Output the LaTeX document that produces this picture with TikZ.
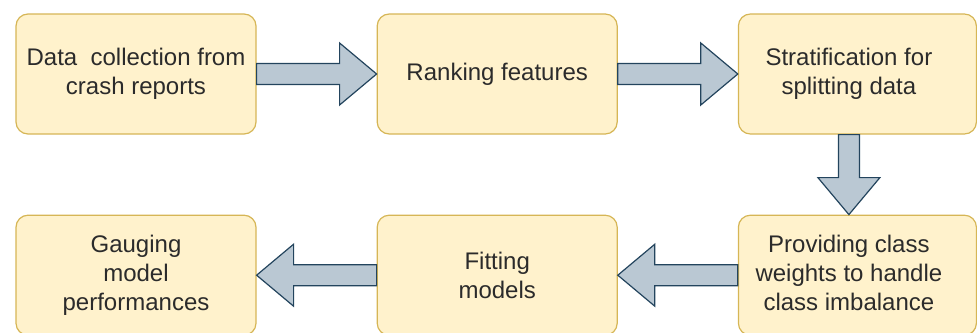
\documentclass[tikz,border=0pt]{standalone}
\usepackage{fontspec}
\setmainfont{Liberation Sans}
\usepackage{tikz}
\usetikzlibrary{positioning,calc}
\definecolor{boxfill}{HTML}{FFF2CC}
\definecolor{boxline}{HTML}{D6B656}
\definecolor{arrowfill}{HTML}{BAC8D3}
\definecolor{arrowline}{HTML}{23445D}
\definecolor{ink}{HTML}{2B2B2B}
\newcommand{\offText}[1]{\begin{tabular}{@{}c@{}}#1\end{tabular}\rule{17pt}{0pt}}

\begin{document}
\begin{tikzpicture}[x=1pt, y=1pt]
  \tikzset{stepbox/.style={draw=boxline, fill=boxfill, line width=1.2pt, rounded corners=12pt,
      minimum width=240pt, minimum height=120pt, align=center, text=ink,
      font=\fontsize{24}{29}\selectfont},
    blockarrow/.style={draw=arrowline, fill=arrowfill, line width=1.2pt, line join=miter,
      to path={let \p1=($(\tikztotarget)!37pt!(\tikztostart)$) in
        ($(\tikztostart)!10.5pt!90:(\tikztotarget)$)
        -- ($(\p1)!10.5pt!90:(\tikztotarget)$)
        -- ($(\p1)!31pt!90:(\tikztotarget)$)
        -- (\tikztotarget)
        -- ($(\p1)!31pt!-90:(\tikztotarget)$)
        -- ($(\p1)!10.5pt!-90:(\tikztotarget)$)
        -- ($(\tikztostart)!10.5pt!-90:(\tikztotarget)$)
        -- cycle}}}
  \useasboundingbox (0,0) rectangle (977,-332);
  \node[stepbox] (collect) at (136,-74) {Data\ \ collection from\\crash reports};
  \node[stepbox, right=120pt of collect] (rank) {Ranking features};
  \node[stepbox, minimum width=238pt, right=120pt of rank] (strat) {\offText{Stratification for\\splitting data}};
  \node[stepbox, minimum width=238pt, below=80pt of strat] (weights) {\offText{Providing class\\weights to handle\\class imbalance}};
  \node[stepbox, left=120pt of weights] (fitting) {Fitting\\models};
  \node[stepbox, left=120pt of fitting] (gauge) {Gauging\\model\\performances};
  \coordinate (dropstart) at ([xshift=-8.5pt]strat.south);
  \coordinate (dropend) at ([xshift=-8.5pt]weights.north);
  \draw[blockarrow] (collect.east) to (rank.west);
  \draw[blockarrow] (rank.east) to (strat.west);
  \draw[blockarrow] (dropstart) to (dropend);
  \draw[blockarrow] (weights.west) to (fitting.east);
  \draw[blockarrow] (fitting.west) to (gauge.east);
\end{tikzpicture}
\end{document}
